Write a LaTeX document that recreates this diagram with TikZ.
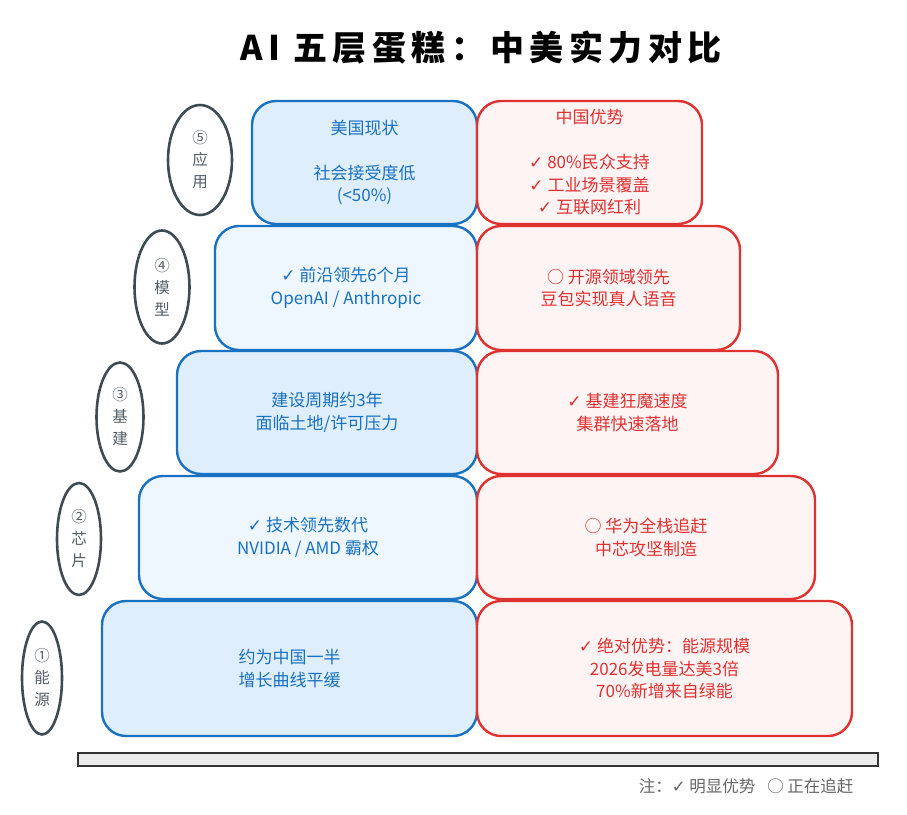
\documentclass[tikz,border=0pt]{standalone}
\usepackage{fontspec}
\setmainfont{Noto Sans CJK SC}
\newfontfamily\symf{DejaVu Sans}
\newfontfamily\titlef[LetterSpace=16]{Noto Sans CJK SC}
\usetikzlibrary{shapes.geometric}
\definecolor{bluetx}{HTML}{1971C2}
\definecolor{redtx}{HTML}{E03131}
\definecolor{bluefA}{HTML}{DFEEFC}
\definecolor{bluefB}{HTML}{EEF6FF}
\definecolor{redf}{HTML}{FFF4F4}
\definecolor{grayl}{HTML}{3F4B53}
\newcommand{\ck}{{\symf\char"2713}}
\tikzset{
  layerbox/.style={rounded corners=24pt, line width=2.4pt, inner sep=0pt, align=center,
    font=\fontsize{17}{22.5}\selectfont},
  usbox/.style={layerbox, draw=bluetx, text=bluetx},
  cnbox/.style={layerbox, draw=redtx, fill=redf, text=redtx},
  tag/.style={ellipse, draw=grayl, line width=2.6pt, inner sep=0pt, align=center,
    text=grayl!90, font=\fontsize{15.5}{22}\selectfont},
}
\begin{document}
\begin{tikzpicture}[x=1pt,y=-1pt]
\useasboundingbox (0,0) rectangle (907,814);
\node (title) at (481,48) {\titlef\bfseries\fontsize{34}{40}\selectfont AI 五层蛋糕：中美实力对比};

% layer 5
\node[usbox, fill=bluefA, minimum width=225pt, minimum height=123pt] (us5) at (364.5,162.5)
  {美国现状\\\mbox{}\\社会接受度低\\(<50\%)};
\node[cnbox, minimum width=225pt, minimum height=123pt] (cn5) at (589.5,162.5)
  {中国优势\\\mbox{}\\\ck{} 80\%民众支持\\\ck{} 工业场景覆盖\\\ck{} 互联网红利};
% layer 4
\node[usbox, fill=bluefB, minimum width=262pt, minimum height=124pt] (us4) at (346,288)
  {\ck{} 前沿领先6个月\\OpenAI / Anthropic};
\node[cnbox, minimum width=263pt, minimum height=124pt] (cn4) at (608.5,288)
  {○ 开源领域领先\\豆包实现真人语音};
% layer 3
\node[usbox, fill=bluefA, minimum width=300pt, minimum height=123pt] (us3) at (327,412.5)
  {建设周期约3年\\面临土地/许可压力};
\node[cnbox, minimum width=301pt, minimum height=123pt] (cn3) at (627.5,412.5)
  {\ck{} 基建狂魔速度\\集群快速落地};
% layer 2
\node[usbox, fill=bluefB, minimum width=338pt, minimum height=123pt] (us2) at (308,537.5)
  {\ck{} 技术领先数代\\NVIDIA / AMD 霸权};
\node[cnbox, minimum width=338pt, minimum height=123pt] (cn2) at (646,537.5)
  {○ 华为全栈追赶\\中芯攻坚制造};
% layer 1
\node[usbox, fill=bluefA, minimum width=375pt, minimum height=135pt] (us1) at (289.5,668.5)
  {约为中国一半\\增长曲线平缓};
\node[cnbox, minimum width=375pt, minimum height=135pt] (cn1) at (664.5,668.5)
  {\ck{} 绝对优势：能源规模\\2026发电量达美3倍\\70\%新增来自绿能};

% tags
\node[tag, minimum width=64pt, minimum height=110pt] (t5) at (200,160) {⑤\\应\\用};
\node[tag, minimum width=55pt, minimum height=113pt] (t4) at (162,287) {④\\模\\型};
\node[tag, minimum width=47pt, minimum height=109pt] (t3) at (120,417) {③\\基\\建};
\node[tag, minimum width=44pt, minimum height=112pt] (t2) at (79,539) {②\\芯\\片};
\node[tag, minimum width=40pt, minimum height=113pt] (t1) at (42,678) {①\\能\\源};

% base
\node[draw=black!80, fill=black!8, line width=2pt, minimum width=800pt, minimum height=13pt, inner sep=0pt] (base) at (478,759) {};

\node[anchor=east, text=black!60, font=\fontsize{16.5}{20}\selectfont] (note) at (857,786)
  {注：\ck{} 明显优势\hspace{12pt}○ 正在追赶};
\end{tikzpicture}
\end{document}
